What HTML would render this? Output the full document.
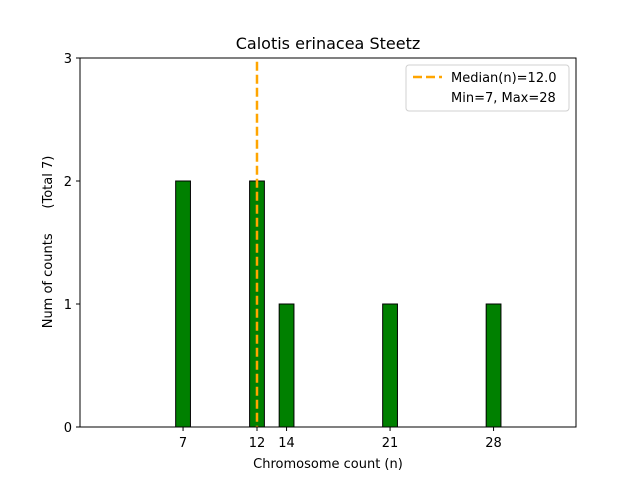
<!DOCTYPE html>
<html><head><meta charset="utf-8"><style>
body{margin:0;background:#fff;font-family:"Liberation Sans","DejaVu Sans",sans-serif}
svg text{font-family:"DejaVu Sans","Liberation Sans",sans-serif}
</style></head><body>
<svg id="c" width="640" height="480" xmlns="http://www.w3.org/2000/svg">
<rect width="640" height="480" fill="#fff"/>
<text x="328" y="49" font-size="16" text-anchor="middle">Calotis erinacea Steetz</text>
<g id="bars"></g>
<g id="ticks"></g>
<rect x="80" y="58" width="496" height="369" fill="none" stroke="#000" stroke-width="1"/>
<text x="328" y="468" font-size="13" text-anchor="middle">Chromosome count (n)</text>
<text transform="translate(52,242) rotate(-90)" font-size="13" text-anchor="middle">Num of counts &#160;&#160;&#160;&#160;&#160;(Total 7)</text>
<g>
<rect x="406" y="65" width="163" height="46" rx="3" fill="#fff" stroke="#d0d0d0"/>
<line x1="413" y1="77" x2="442" y2="77" stroke="orange" stroke-width="2.5" stroke-dasharray="9,4"/>
<text x="451" y="82" font-size="13">Median(n)=12.0</text>
<text x="451" y="102" font-size="13">Min=7, Max=28</text>
</g>
</svg>
<script>
const categories=[7,12,14,21,28];
const counts=[2,2,1,1,1];
const yTicks=[0,1,2,3];
const xTicks=[7,12,14,21,28];
const median=12.0;
const NS="http://www.w3.org/2000/svg";
const x=v=>80+(v-0.03)*14.786;
const y=v=>427-v*123;
const bars=document.getElementById('bars'), ticks=document.getElementById('ticks');
function mk(t,a,p){const e=document.createElementNS(NS,t);for(const k in a)e.setAttribute(k,a[k]);p.appendChild(e);return e;}
categories.forEach((c,i)=>{
 const r=mk('rect',{x:x(c-0.5),y:y(counts[i]),width:14.786,height:y(0)-y(counts[i]),fill:'green',stroke:'#000','stroke-width':1},bars);
 
 
});
const base=mk('line',{x1:x(6.5),x2:x(31.8),y1:y(0),y2:y(0),stroke:'#000'},bars);


const ml=mk('line',{x1:x(median),x2:x(median),y1:y(2.97),y2:y(0),stroke:'orange','stroke-width':2.5,'stroke-dasharray':'9,4'},bars);


yTicks.forEach(t=>{
 mk('line',{x1:76,x2:80,y1:y(t),y2:y(t),stroke:'#000'},ticks);
 const tx=mk('text',{x:72,y:y(t)+5,'font-size':13,'text-anchor':'end'},ticks);
 tx.textContent=t;
 
 
});
xTicks.forEach(t=>{
 mk('line',{x1:x(t),x2:x(t),y1:427,y2:431,stroke:'#000'},ticks);
 const tx=mk('text',{x:x(t),y:447,'font-size':13,'text-anchor':'middle'},ticks);
 tx.textContent=t;
 
 
});
</script>
</body></html>
